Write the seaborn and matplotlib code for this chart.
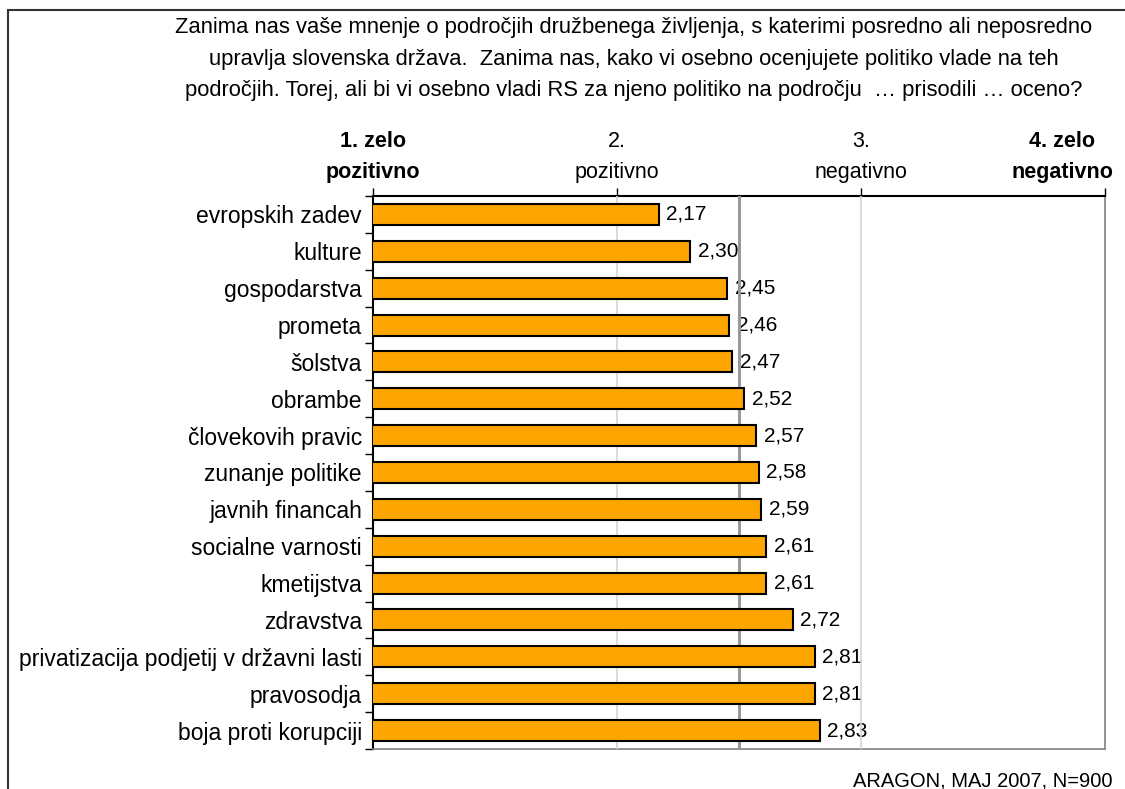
import matplotlib
matplotlib.use('Agg')
import matplotlib.pyplot as plt  # type: ignore
import seaborn as sns  # type: ignore
import pandas as pd  # type: ignore
from matplotlib.patches import Rectangle

# chart data
categories = [
    'evropskih zadev', 'kulture', 'gospodarstva', 'prometa', 'šolstva',
    'obrambe', 'človekovih pravic', 'zunanje politike', 'javnih financah',
    'socialne varnosti', 'kmetijstva', 'zdravstva',
    'privatizacija podjetij v državni lasti', 'pravosodja', 'boja proti korupciji',
]
values = [2.17, 2.30, 2.45, 2.46, 2.47, 2.52, 2.57, 2.58, 2.59, 2.61, 2.61,
          2.72, 2.81, 2.81, 2.83]
scale_ticks = [1, 2, 3, 4]
scale_labels = ['1. zelo\npozitivno', '2.\npozitivno', '3.\nnegativno',
                '4. zelo\nnegativno']
bold_labels = [True, False, False, True]
midpoint = 2.5

title = ('Zanima nas vaše mnenje o področjih družbenega življenja, s katerimi posredno ali neposredno\n'
         'upravlja slovenska država.  Zanima nas, kako vi osebno ocenjujete politiko vlade na teh\n'
         'področjih. Torej, ali bi vi osebno vladi RS za njeno politiko na področju  … prisodili … oceno?')
source = 'ARAGON, MAJ 2007, N=900'

df = pd.DataFrame({'podrocje': categories, 'ocena': values})

sns.set_style('white')
plt.rcParams['font.family'] = ['Liberation Sans', 'DejaVu Sans']
plt.rcParams['text.color'] = 'black'
plt.rcParams['xtick.color'] = 'black'
plt.rcParams['ytick.color'] = 'black'

fig = plt.figure(figsize=(11.25, 7.89), dpi=100, facecolor='white')
ax = fig.add_axes([0.3316, 0.0507, 0.9822 - 0.3316, 0.7516 - 0.0507])

sns.barplot(data=df, x='ocena', y='podrocje', orient='h', color='#FFA500',
            edgecolor='black', linewidth=1.5, width=0.57, saturation=1,
            zorder=3, ax=ax)

ax.set_xlim(1, 4)
ax.set_ylim(len(categories) - 0.5, -0.5)

# grid lines and the midpoint line
for x in [2, 3]:
    ax.axvline(x, color='#d4d4d4', lw=1.2, zorder=2.6)
ax.axvline(midpoint, color='#999999', lw=2.2, zorder=2.6)

# value labels
for i, v in enumerate(values):
    ax.text(v + 0.032, i, f'{v:.2f}'.replace('.', ','), va='center', ha='left',
            fontsize=15, color='black', zorder=2)

# top axis with scale labels; the last one is shifted left of its tick
ax.xaxis.tick_top()
ax.set_xticks(scale_ticks)
ax.set_xticklabels(scale_labels[:-1] + [''], fontsize=15.5, linespacing=1.65)
for lbl, b in zip(ax.get_xticklabels(), bold_labels):
    if b:
        lbl.set_fontweight('bold')
ax.annotate(scale_labels[-1], xy=(scale_ticks[-1], 1),
            xycoords=('data', 'axes fraction'), xytext=(-43, 12.5),
            textcoords='offset pixels', ha='center', va='bottom',
            fontsize=15.5, fontweight='bold', linespacing=1.65,
            annotation_clip=False)
ax.tick_params(axis='x', which='major', direction='out', length=6, width=1,
               color='black', pad=3, top=True, bottom=False)

# category labels with ticks between categories
ax.set_yticks(range(len(categories)))
ax.set_yticklabels(categories, fontsize=16.5)
ax.set_yticks([i - 0.5 for i in range(len(categories) + 1)], minor=True)
ax.tick_params(axis='y', which='major', length=0, pad=8)
ax.tick_params(axis='y', which='minor', direction='out', length=6, width=1,
               color='black', left=True)
ax.set_xlabel('')
ax.set_ylabel('')

ax.spines['top'].set_color('black')
ax.spines['left'].set_color('black')
ax.spines['top'].set_linewidth(1.5)
ax.spines['left'].set_linewidth(1.5)
ax.spines['right'].set_color('#808080')
ax.spines['bottom'].set_color('#808080')
ax.spines['right'].set_linewidth(1.2)
ax.spines['bottom'].set_linewidth(1.2)

fig.text(0.5636, 1 - 59 / 789, title, ha='center', va='center', fontsize=15.8,
         linespacing=1.65)
fig.text(853 / 1125, 1 - 781 / 789, source, ha='left', va='center', fontsize=14.5)

# outer frame of the chart
fig.patches.append(Rectangle((8 / 1125, -0.05), 1.2, 1 - 10 / 789 + 0.05,
                             transform=fig.transFigure, fill=False,
                             edgecolor='#333333', lw=1.5))

fig.savefig('out.png', dpi=100, facecolor='white')
